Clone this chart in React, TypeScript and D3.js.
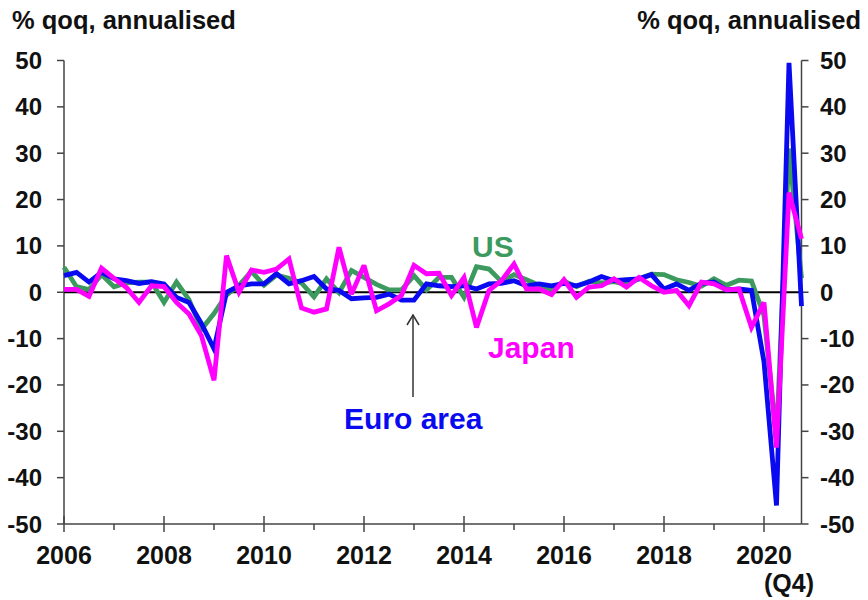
import React from "react";
import * as d3 from "d3";

const W = 868;
const H = 600;

const startYear = 2006;
const yearTicks = [2006, 2008, 2010, 2012, 2014, 2016, 2018, 2020];
const minorYears = [2007, 2009, 2011, 2013, 2015, 2017, 2019];
const yTicks = [50, 40, 30, 20, 10, 0, -10, -20, -30, -40, -50];

// quarterly, 2006Q1 .. 2020Q4, % qoq annualised
const usValues = [
  5.4, 1.2, 0.6, 3.8,
  1.2, 2.0, 2.2, 2.2,
  -2.2, 2.2, -1.6, -8.0,
  -4.6, -0.6, 1.5, 4.5,
  1.5, 3.7, 3.0, 2.0,
  -1.0, 2.9, -0.1, 4.7,
  3.2, 1.7, 0.5, 0.5,
  3.6, 0.5, 3.2, 3.2,
  -1.1, 5.5, 5.0, 2.3,
  3.8, 2.7, 1.5, 0.6,
  2.4, 1.2, 2.4, 2.0,
  2.3, 1.7, 2.9, 3.9,
  3.8, 2.7, 2.1, 1.3,
  2.9, 1.5, 2.6, 2.4,
  -5.0, -31.4, 31.0, 3.0,
];

const euroValues = [
  3.6, 4.3, 2.2, 4.3,
  2.9, 2.5, 1.9, 2.3,
  1.8, -1.1, -2.2, -6.8,
  -12.2, 0.0, 1.4, 1.8,
  1.8, 4.0, 1.8, 2.5,
  3.4, 0.7, 0.4, -1.4,
  -1.2, -1.1, -0.4, -1.7,
  -1.7, 1.8, 1.4, 1.2,
  1.4, 0.7, 1.8, 1.9,
  2.5, 1.4, 1.8, 1.4,
  1.9, 1.4, 2.2, 3.4,
  2.5, 2.7, 2.9, 3.8,
  0.7, 1.8, 0.4, 1.9,
  2.2, 0.5, 0.7, 0.4,
  -15.0, -46.0, 49.5, -3.0,
];

const japanValues = [
  0.6, 0.6, -0.9, 5.2,
  3.0, 1.0, -2.2, 1.4,
  1.2, -2.2, -4.7, -9.4,
  -19.0, 7.9, 0.0, 4.8,
  4.3, 5.0, 7.2, -3.4,
  -4.3, -3.6, 9.7, -0.4,
  5.8, -4.0, -2.5, -0.7,
  5.8, 4.0, 4.1, -0.7,
  3.2, -7.6, 0.4, 2.5,
  6.1, 0.7, 0.7, -0.5,
  2.7, -1.1, 1.1, 1.4,
  2.9, 1.1, 3.2, 1.4,
  0.0, 0.4, -2.9, 2.2,
  1.8, 0.5, 0.7, -7.6,
  -2.2, -33.5, 21.5, 11.5,
];

const seriesNames = ["US", "Euro area", "Japan"];
const seriesColors = ["#3c9a5f", "#0a0af0", "#ff00ff"];

const FONT = "'Liberation Sans', Arial, sans-serif";

export default function App() {
  const x = d3.scaleLinear().domain([2006, 2020.75]).range([64, 801.5]);
  const y = d3.scaleLinear().domain([-50, 50]).range([524, 60.5]);
  const line = d3
    .line<number>()
    .x((_, i) => x(startYear + i / 4))
    .y((d) => y(d));

  const allSeries = [usValues, euroValues, japanValues];
  const axisColor = "#444";

  return (
    <svg
      width={W}
      height={H}
      style={{ position: "absolute", left: 0, top: 0, background: "#fff" }}
      fontFamily={FONT}
      fontWeight="bold"
    >
      <rect width={W} height={H} fill="#fff" />
      {/* titles */}
      <text x={12} y={29} fontSize={25.5} fill="#111">% qoq, annualised</text>
      <text x={861} y={29} fontSize={25.5} fill="#111" textAnchor="end">% qoq, annualised</text>

      {/* left axis */}
      <line x1={x(2006)} x2={x(2006)} y1={y(50)} y2={y(-50)} stroke={axisColor} strokeWidth={1.5} />
      {yTicks.map((t) => (
        <g key={"l" + t}>
          <line x1={x(2006) - 7} x2={x(2006)} y1={y(t)} y2={y(t)} stroke={axisColor} strokeWidth={1.5} />
          <text x={42} y={y(t) + 8.5} fontSize={24} textAnchor="end" fill="#111">{t}</text>
        </g>
      ))}
      {/* right axis */}
      <line x1={x(2020.75)} x2={x(2020.75)} y1={y(50)} y2={y(-50)} stroke={axisColor} strokeWidth={1.5} />
      {yTicks.map((t) => (
        <g key={"r" + t}>
          <line x1={x(2020.75)} x2={x(2020.75) + 7} y1={y(t)} y2={y(t)} stroke={axisColor} strokeWidth={1.5} />
          <text x={820} y={y(t) + 8.5} fontSize={24} textAnchor="start" fill="#111">{t}</text>
        </g>
      ))}
      {/* bottom axis */}
      <line x1={x(2006)} x2={x(2020.75)} y1={y(-50)} y2={y(-50)} stroke={axisColor} strokeWidth={1.5} />
      {yearTicks.map((yr) => (
        <g key={"x" + yr}>
          <line x1={x(yr)} x2={x(yr)} y1={y(-50) - 8} y2={y(-50) + 8} stroke={axisColor} strokeWidth={1.5} />
          <text x={x(yr)} y={564} fontSize={25} textAnchor="middle" fill="#111">{yr}</text>
        </g>
      ))}
      {minorYears.map((yr) => (
        <line key={"m" + yr} x1={x(yr)} x2={x(yr)} y1={y(-50)} y2={y(-50) + 6} stroke={axisColor} strokeWidth={1.5} />
      ))}
      <text x={789} y={592} fontSize={25} textAnchor="middle" fill="#111">(Q4)</text>

      {/* zero line */}
      <line x1={x(2006)} x2={x(2020.75)} y1={y(0)} y2={y(0)} stroke="#000" strokeWidth={2} />

      {/* series */}
      {allSeries.map((s, k) => (
        <path
          key={seriesNames[k]}
          d={line(s) || ""}
          fill="none"
          stroke={seriesColors[k]}
          strokeWidth={4.8}
          strokeLinejoin="miter"
          strokeMiterlimit={3}
        />
      ))}

      {/* labels */}
      <text x={472} y={257} fontSize={30} fill={seriesColors[0]}>US</text>
      <text x={488} y={358} fontSize={30} fill={seriesColors[2]}>Japan</text>
      <text x={344} y={429} fontSize={30} fill={seriesColors[1]}>Euro area</text>

      {/* arrow */}
      <line x1={413} x2={413} y1={397} y2={316} stroke="#333" strokeWidth={1.5} />
      <polyline points="407,325 413,315 419,325" fill="none" stroke="#333" strokeWidth={1.5} />
    </svg>
  );
}
